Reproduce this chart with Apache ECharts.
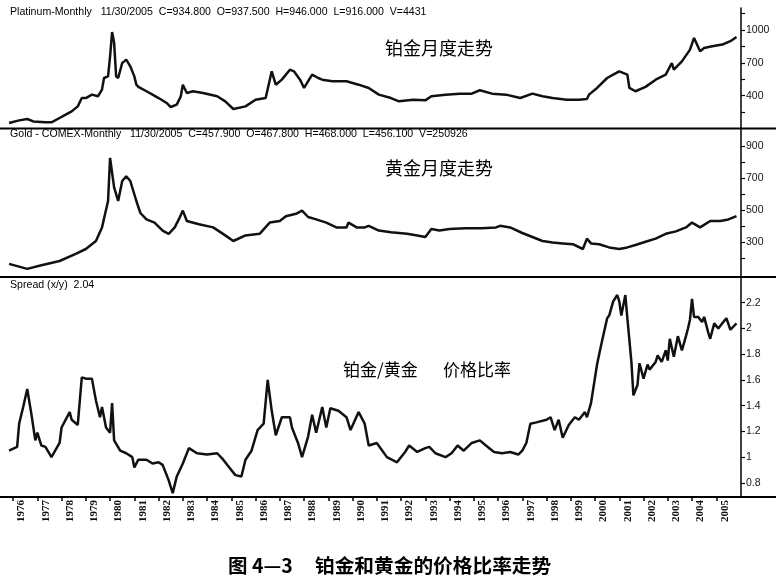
<!DOCTYPE html>
<html><head><meta charset="utf-8">
<script src="https://cdn.jsdelivr.net/npm/echarts@6/dist/echarts.min.js"></script>
<style>html,body{margin:0;padding:0;background:#fff}#c{width:776px;height:585px}</style>
</head><body><div id="c"></div><script>
// ---- Data ----
const platDates = ['1975-11','1976-04','1976-08','1976-11','1977-05','1977-08','1977-12','1978-03','1978-06','1978-09','1978-11','1979-01','1979-04','1979-07','1979-09','1979-10','1979-12','1980-01','1980-02','1980-03','1980-04','1980-05','1980-07','1980-08','1980-09','1980-11','1981-01','1981-02','1981-03','1981-07','1981-10','1982-01','1982-05','1982-07','1982-10','1982-12','1983-01','1983-03','1983-06','1983-11','1984-06','1984-10','1985-02','1985-08','1986-01','1986-06','1986-09','1986-11','1987-02','1987-06','1987-08','1987-11','1988-01','1988-05','1988-08','1988-10','1989-03','1989-10','1990-04','1990-09','1991-02','1991-08','1991-12','1992-07','1993-01','1993-04','1993-11','1994-06','1994-12','1995-04','1995-10','1996-05','1996-12','1997-06','1997-11','1998-04','1998-11','1999-05','1999-09','1999-10','2000-02','2000-07','2000-10','2001-01','2001-05','2001-06','2001-09','2002-02','2002-07','2002-12','2003-03','2003-04','2003-08','2003-12','2004-02','2004-05','2004-07','2004-11','2005-04','2005-08','2005-11'];
const platValues = [150,174,187,165,156,156,196,226,256,302,378,378,409,394,455,561,576,759,980,882,576,561,698,713,729,668,576,500,480,440,409,378,333,296,318,394,500,424,440,424,394,348,278,302,363,378,622,500,546,637,622,546,470,592,561,546,531,531,500,470,409,378,348,363,357,394,409,418,418,449,418,409,378,418,394,378,363,363,369,409,470,561,592,622,592,470,440,480,546,592,698,637,713,820,927,805,835,851,866,897,935];

const goldDates = ['1975-11','1976-08','1977-02','1977-12','1978-08','1979-01','1979-06','1979-09','1979-12','1980-01','1980-03','1980-05','1980-07','1980-09','1980-11','1981-02','1981-04','1981-07','1981-11','1982-03','1982-06','1982-09','1982-11','1983-01','1983-03','1983-09','1984-04','1984-10','1985-02','1985-08','1986-03','1986-08','1987-01','1987-04','1987-09','1987-12','1988-03','1988-07','1988-12','1989-05','1989-10','1989-11','1990-03','1990-07','1990-09','1991-02','1991-08','1992-04','1992-09','1993-01','1993-04','1993-08','1994-01','1994-09','1995-05','1995-12','1996-02','1996-07','1997-01','1997-06','1997-11','1998-04','1998-09','1999-02','1999-07','1999-09','1999-11','2000-03','2000-08','2001-01','2001-05','2001-09','2002-02','2002-07','2002-12','2003-05','2003-10','2004-01','2004-05','2004-10','2005-03','2005-07','2005-11'];
const goldValues = [162,131,150,180,225,255,305,390,555,825,640,555,680,710,680,555,480,440,420,370,350,390,440,495,430,410,390,340,305,340,350,420,430,460,475,495,455,440,420,390,390,420,390,390,400,370,360,350,340,330,380,370,380,385,385,390,400,390,355,330,305,295,290,285,255,320,290,285,265,255,265,280,300,320,350,365,390,420,390,430,430,440,460];

const ratioDates = ['1975-11','1976-03','1976-04','1976-06','1976-08','1976-10','1976-12','1977-01','1977-03','1977-05','1977-08','1977-12','1978-01','1978-05','1978-06','1978-09','1978-11','1979-01','1979-04','1979-06','1979-08','1979-09','1979-11','1980-01','1980-02','1980-03','1980-06','1980-09','1980-12','1981-01','1981-03','1981-07','1981-10','1982-01','1982-03','1982-06','1982-08','1982-10','1983-01','1983-04','1983-08','1984-01','1984-06','1984-09','1984-12','1985-03','1985-06','1985-08','1985-11','1986-02','1986-05','1986-07','1986-09','1986-11','1987-02','1987-06','1987-07','1987-10','1987-12','1988-03','1988-05','1988-07','1988-10','1988-12','1989-02','1989-06','1989-10','1989-12','1990-04','1990-07','1990-09','1991-01','1991-06','1991-11','1992-03','1992-05','1992-09','1993-01','1993-03','1993-06','1993-11','1994-02','1994-05','1994-08','1994-12','1995-04','1995-07','1995-11','1996-03','1996-07','1996-11','1997-01','1997-03','1997-05','1997-08','1998-01','1998-03','1998-05','1998-07','1998-09','1998-12','1999-03','1999-05','1999-08','1999-09',
  '1999-11','2000-02','2000-04','2000-07','2000-08','2000-10','2000-12','2001-01','2001-02','2001-04','2001-05','2001-07','2001-08','2001-10','2001-11','2002-01','2002-03','2002-04','2002-07','2002-08','2002-10','2002-12','2003-01','2003-02','2003-04','2003-06','2003-08','2003-10','2003-11','2003-12','2004-01','2004-02','2004-04','2004-06','2004-07','2004-09','2004-10','2004-12','2005-02','2005-04','2005-06','2005-08','2005-11'];
const ratioValues = [1.05,1.08,1.26,1.39,1.53,1.34,1.13,1.19,1.09,1.08,1.00,1.11,1.23,1.35,1.29,1.25,1.62,1.61,1.61,1.44,1.31,1.39,1.23,1.19,1.42,1.13,1.05,1.03,1.00,0.92,0.98,0.98,0.95,0.96,0.94,0.82,0.72,0.85,0.95,1.07,1.03,1.02,1.03,0.98,0.92,0.86,0.85,0.98,1.05,1.21,1.26,1.60,1.36,1.17,1.31,1.31,1.23,1.11,1.00,1.16,1.33,1.19,1.39,1.23,1.38,1.36,1.31,1.21,1.35,1.26,1.09,1.11,1.00,0.96,1.04,1.09,1.04,1.07,1.08,1.03,1.00,1.03,1.09,1.05,1.11,1.13,1.09,1.04,1.03,1.04,1.02,1.05,1.11,1.26,1.27,1.29,1.31,1.21,1.29,1.15,1.25,1.31,1.29,1.35,1.31,
  1.42,1.72,1.87,2.08,2.10,2.21,2.26,2.21,2.10,2.26,2.08,1.74,1.48,1.56,1.73,1.61,1.72,1.68,1.74,1.79,1.74,1.83,1.75,1.92,1.78,1.94,1.83,1.94,2.00,2.07,2.23,2.09,2.09,2.05,2.09,1.97,1.92,2.04,2.00,2.04,2.08,1.99,2.04];

const yearTicks = [1976,1977,1978,1979,1980,1981,1982,1983,1984,1985,1986,1987,1988,1989,1990,1991,1992,1993,1994,1995,1996,1997,1998,1999,2000,2001,2002,2003,2004,2005];
const platTickLabels = [400,700,1000];
const platMinorTicks = [250,400,550,700,850,1000,1150];
const goldTickLabels = [300,500,700,900];
const goldMinorTicks = [200,300,400,500,600,700,800,900];
const ratioTickLabels = [0.8,1,1.2,1.4,1.6,1.8,2,2.2];

const platHeader = 'Platinum-Monthly   11/30/2005  C=934.800  O=937.500  H=946.000  L=916.000  V=4431';
const goldHeader = 'Gold - COMEX-Monthly   11/30/2005  C=457.900  O=467.800  H=468.000  L=456.100  V=250926';
const spreadHeader = 'Spread (x/y)  2.04';
const platNote = '铂金月度走势';
const goldNote = '黄金月度走势';
const ratioNoteA = '铂金/黄金';
const ratioNoteB = '价格比率';
const captionA = '图 4—3';
const captionB = '铂金和黄金的价格比率走势';

// ---- helpers ----
function toYear(s){ const p = s.split('-').map(Number); return p[0] + (p[1]-1)/12; }
function pairs(d, v){ if (d.length !== v.length) console.error('length mismatch', d.length, v.length); return d.map((s,i)=>[toYear(s), v[i]]); }

const X_MIN = 1975.79, X_MAX = 2006.02;
const grids = [
  {left: 8, right: 35, top: 8, height: 120.5},
  {left: 8, right: 35, top: 129, height: 148},
  {left: 8, right: 35, top: 277, height: 220}
];
function xAx(i, show){
  const base = {gridIndex: i, type: 'value', min: X_MIN, max: X_MAX, splitLine: {show: false}};
  if (!show) return Object.assign(base, {show: false});
  return Object.assign(base, {
    axisLine: {show: true, onZero: false, lineStyle: {color: '#000', width: 2}},
    axisTick: {show: true, customValues: yearTicks, length: 4, lineStyle: {color: '#000', width: 1.5}},
    axisLabel: {customValues: yearTicks.map(y => y + 0.35), rotate: 90, margin: 3,
      formatter: v => String(Math.floor(v + 0.001)),
      fontFamily: '"Liberation Serif", serif', fontWeight: 'bold', fontSize: 11, color: '#111'}
  });
}
function yAx(i, min, max, ticks, labels, fmt){
  return {gridIndex: i, type: 'value', position: 'right', min: min, max: max,
    splitLine: {show: false},
    axisLine: {show: true, lineStyle: {color: '#000', width: 1.5}},
    axisTick: {show: true, customValues: ticks, length: 4, inside: false, lineStyle: {color: '#000', width: 1.2}},
    axisLabel: {customValues: labels, margin: 5, fontFamily: 'Arial, "Liberation Sans", sans-serif',
      fontSize: 10.5, color: '#111', formatter: fmt || (v => String(v))}
  };
}
function txt(x, y, text, font){
  return {type: 'text', x: x, y: y, z: 100,
    style: {text: text, font: font, fill: '#000', verticalAlign: 'middle', align: 'left'}};
}
function hline(y, w){
  return {type: 'line', z: 90, shape: {x1: 0, y1: y, x2: 776, y2: y}, style: {stroke: '#000', lineWidth: w}};
}

const lineStyle = {color: '#111', width: 2.5};
const hdrFont = '10.6px Arial, "Liberation Sans", sans-serif';
const option = {
  animation: false,
  backgroundColor: '#fff',
  grid: grids,
  xAxis: [xAx(0,false), xAx(1,false), xAx(2,true)],
  yAxis: [
    yAx(0, 100, 1200, platMinorTicks, platTickLabels),
    yAx(1, 80, 1005, goldMinorTicks, goldTickLabels),
    yAx(2, 0.69, 2.4, ratioTickLabels, ratioTickLabels, v => String(+(+v).toFixed(1)))
  ],
  series: [
    {type: 'line', xAxisIndex: 0, yAxisIndex: 0, data: pairs(platDates, platValues), showSymbol: false, lineStyle: lineStyle},
    {type: 'line', xAxisIndex: 1, yAxisIndex: 1, data: pairs(goldDates, goldValues), showSymbol: false, lineStyle: lineStyle},
    {type: 'line', xAxisIndex: 2, yAxisIndex: 2, data: pairs(ratioDates, ratioValues), showSymbol: false, lineStyle: lineStyle}
  ],
  graphic: [
    hline(128.5, 2), hline(277, 2), hline(497, 2),
    txt(10, 12, platHeader, hdrFont),
    txt(10, 134, goldHeader, hdrFont),
    txt(10, 285, spreadHeader, hdrFont),
    txt(385, 48, platNote, '18px "Noto Sans CJK SC", sans-serif'),
    txt(385, 168, goldNote, '18px "Noto Sans CJK SC", sans-serif'),
    txt(343, 370, ratioNoteA, '17px "Noto Sans CJK SC", sans-serif'),
    txt(443, 370, ratioNoteB, '17px "Noto Sans CJK SC", sans-serif'),
    txt(228, 566, captionA, 'bold 19.5px "Noto Sans CJK SC", sans-serif'),
    txt(315, 566, captionB, 'bold 19.7px "Noto Sans CJK SC", sans-serif')
  ]
};
const chart = echarts.init(document.getElementById('c'), null, {renderer: 'canvas'});
chart.setOption(option);
</script></body></html>
